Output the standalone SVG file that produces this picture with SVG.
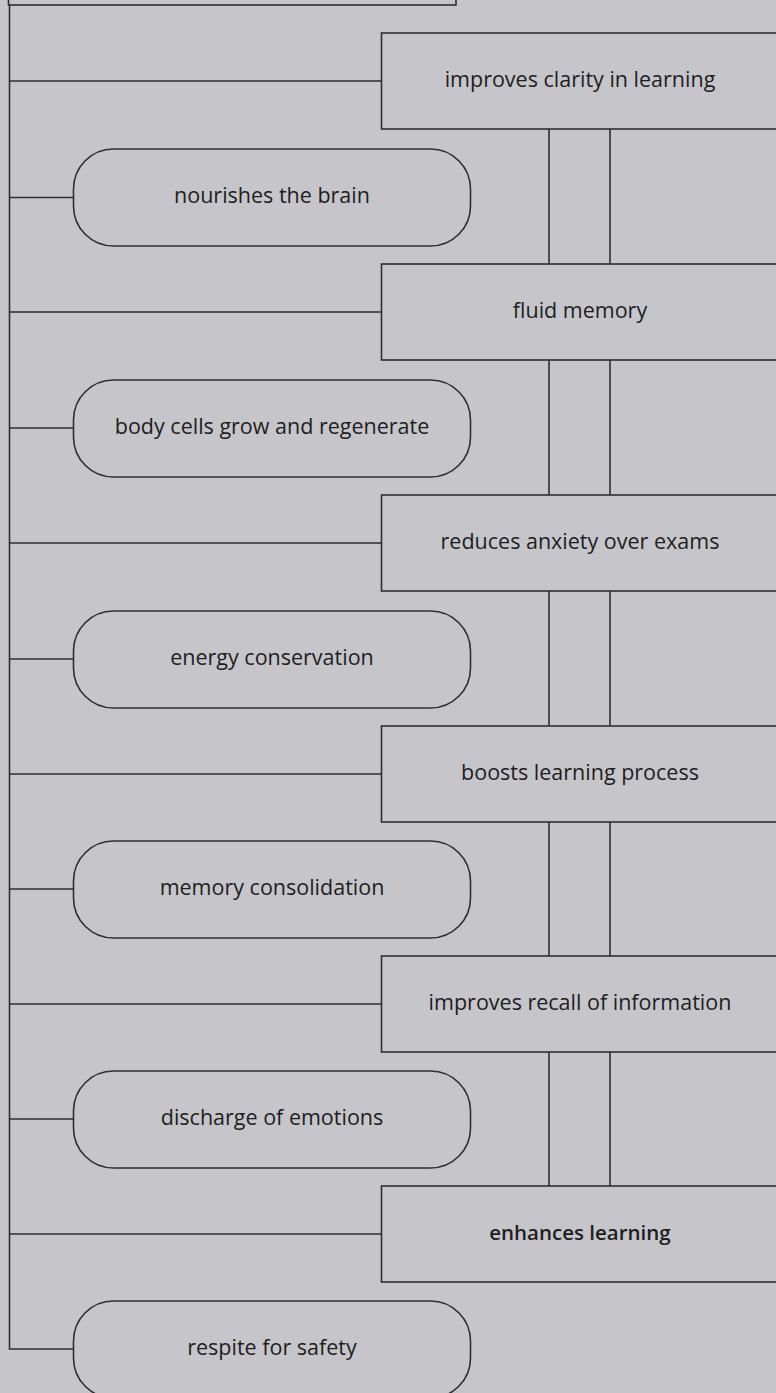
<svg xmlns="http://www.w3.org/2000/svg" width="776" height="1393" viewBox="0 0 776 1393">
<style>
.bg{fill:#c6c5ca}
.box{fill:none;stroke:#2e2e33;stroke-width:1.6}
.ln{fill:none;stroke:#2e2e33;stroke-width:1.6}
.t{font-family:"Open Sans","Noto Sans",sans-serif;font-size:21.5px;fill:#1e1e22;text-anchor:middle}
.b{font-weight:600;font-size:20.5px}
</style>
<rect class="bg" x="0" y="0" width="776" height="1393"/>
<g id="top"><rect class="box" x="8.5" y="-60" width="447.5" height="65"/></g>
<g id="connectors">
<path class="ln" d="M9.5 5 V1349 H73"/>
<path class="ln" d="M9.5 81 H381 M9.5 197.5 H73 M9.5 312 H381 M9.5 428 H73 M9.5 543 H381 M9.5 659 H73 M9.5 774 H381 M9.5 889 H73 M9.5 1004 H381 M9.5 1119 H73 M9.5 1234 H381"/>
<path class="ln" d="M549 129 V264 M610 129 V264 M549 360 V495 M610 360 V495 M549 591 V726 M610 591 V726 M549 822 V956 M610 822 V956 M549 1052 V1186 M610 1052 V1186"/>
</g>
<g id="n1"><rect class="box" x="381.5" y="33" width="420" height="96"/><text class="t" x="580" y="87">improves clarity in learning</text></g>
<g id="n2"><rect class="box" x="73.5" y="149" width="397" height="97" rx="40"/><text class="t" x="272" y="203">nourishes the brain</text></g>
<g id="n3"><rect class="box" x="381.5" y="264" width="420" height="96"/><text class="t" x="580" y="318">fluid memory</text></g>
<g id="n4"><rect class="box" x="73.5" y="380" width="397" height="97" rx="40"/><text class="t" x="272" y="434">body cells grow and regenerate</text></g>
<g id="n5"><rect class="box" x="381.5" y="495" width="420" height="96"/><text class="t" x="580" y="549">reduces anxiety over exams</text></g>
<g id="n6"><rect class="box" x="73.5" y="611" width="397" height="97" rx="40"/><text class="t" x="272" y="665">energy conservation</text></g>
<g id="n7"><rect class="box" x="381.5" y="726" width="420" height="96"/><text class="t" x="580" y="780">boosts learning process</text></g>
<g id="n8"><rect class="box" x="73.5" y="841" width="397" height="97" rx="40"/><text class="t" x="272" y="895">memory consolidation</text></g>
<g id="n9"><rect class="box" x="381.5" y="956" width="420" height="96"/><text class="t" x="580" y="1010">improves recall of information</text></g>
<g id="n10"><rect class="box" x="73.5" y="1071" width="397" height="97" rx="40"/><text class="t" x="272" y="1125">discharge of emotions</text></g>
<g id="n11"><rect class="box" x="381.5" y="1186" width="420" height="96"/><text class="t b" x="580" y="1240">enhances learning</text></g>
<g id="n12"><rect class="box" x="73.5" y="1301" width="397" height="97" rx="40"/><text class="t" x="272" y="1355">respite for safety</text></g>
</svg>
